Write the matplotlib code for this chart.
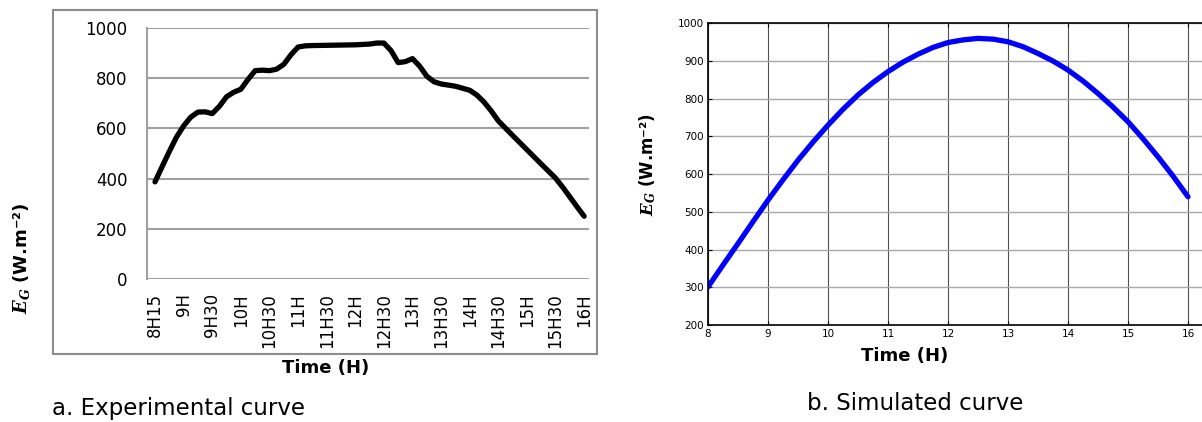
import matplotlib
matplotlib.use('Agg')
import matplotlib.pyplot as plt
from matplotlib.patches import Rectangle

# global irradiance, experimental (Excel style) and simulated (Matlab style)
exp_labels = ['8H15', '9H', '9H30', '10H', '10H30', '11H', '11H30', '12H',
              '12H30', '13H', '13H30', '14H', '14H30', '15H', '15H30', '16H']
# positions in label units (read along the curve between labels)
exp_pos = [0, 0.25, 0.5, 0.75, 1, 1.25, 1.5, 1.75, 2, 2.25, 2.5, 2.75, 3, 3.25, 3.5,
           3.75, 4, 4.25, 4.5, 4.75, 5, 5.25, 5.5, 6, 6.5, 7, 7.5, 7.75, 8, 8.25,
           8.5, 8.75, 9, 9.25, 9.5, 9.75, 10, 10.5, 11, 11.25, 11.5, 11.75, 12,
           12.5, 13, 13.5, 14, 14.25, 14.5, 14.75, 15]
exp_val = [387, 448, 508, 565, 610, 645, 665, 666, 659, 688, 726, 744, 756, 795, 830,
           832, 830, 836, 855, 893, 924, 929, 930, 931, 932, 933, 936, 940, 940, 910,
           862, 866, 878, 848, 808, 786, 777, 768, 752, 733, 705, 670, 630,
           572, 515, 458, 402, 366, 327, 288, 250]

sim_time = [8, 8.25, 8.5, 8.75, 9, 9.25, 9.5, 9.75, 10, 10.25, 10.5, 10.75, 11,
            11.25, 11.5, 11.75, 12, 12.25, 12.5, 12.75, 13, 13.25, 13.5, 13.75,
            14, 14.25, 14.5, 14.75, 15, 15.25, 15.5, 15.75, 16]
sim_val = [301, 359, 416, 474, 531, 585, 637, 685, 730, 772, 810, 843, 872,
           897, 918, 936, 949, 956, 960, 958, 951, 938, 920, 900,
           876, 847, 814, 778, 739, 694, 646, 595, 540]

W, H = 1202, 422
plt.rcParams['font.family'] = ['DejaVu Sans']
plt.rcParams['mathtext.fontset'] = 'custom'
plt.rcParams['mathtext.rm'] = 'DejaVu Sans:bold'
plt.rcParams['mathtext.bf'] = 'DejaVu Sans:bold'
plt.rcParams['mathtext.it'] = 'DejaVu Serif:bold:italic'

fig = plt.figure(figsize=(W / 100, H / 100), dpi=100)


def box(x0, y0, x1, y1):
    # pixel box (top-left origin) -> figure fraction rect
    return [x0 / W, 1 - y1 / H, (x1 - x0) / W, (y1 - y0) / H]


def fx(x):
    return x / W


def fy(y):
    return 1 - y / H


ylab = r'$E_G$ (W.m⁻²)'

# ---- a. experimental ----
fig.patches.append(Rectangle((fx(53), fy(354)), (597 - 53) / W, (354 - 10) / H,
                             transform=fig.transFigure, fill=False,
                             edgecolor='#8c8c8c', lw=1.5))

ax1 = fig.add_axes(box(147, 28, 589, 279))
ax1.plot(exp_pos, exp_val, color='black', lw=3.8, solid_joinstyle='round',
         solid_capstyle='round')
ax1.set_xlim(-0.28, 15.17)
ax1.set_ylim(0, 1000)
ax1.set_yticks(range(0, 1001, 200))
ax1.set_xticks(range(len(exp_labels)))
ax1.set_xticklabels(exp_labels, rotation=90, va='top')
ax1.tick_params(axis='both', length=0, labelsize=12)
ax1.tick_params(axis='y', pad=14)
ax1.tick_params(axis='x', pad=10)
ax1.grid(axis='y', color='#a0a0a0', lw=1.5)
ax1.set_axisbelow(True)
for s in ['top', 'right', 'bottom']:
    ax1.spines[s].set_visible(False)
ax1.spines['left'].set_color('#a0a0a0')
ax1.spines['left'].set_linewidth(1.5)

fig.text(fx(22), fy(258), ylab, rotation=90, ha='center', va='center',
         fontsize=13, fontweight='bold')
fig.text(fx(326), fy(368), 'Time (H)', ha='center', va='center',
         fontsize=13, fontweight='bold')
fig.text(fx(52), fy(409), 'a. Experimental curve', ha='left', va='center',
         fontsize=16.5)

# ---- b. simulated ----
ax2 = fig.add_axes(box(708, 23.3, 1215, 325))
ax2.plot(sim_time, sim_val, color='#0000ff', lw=3.8, solid_joinstyle='round',
         solid_capstyle='round')
ax2.set_xlim(8, 16.45)
ax2.set_ylim(200, 1000)
ax2.set_xticks(range(8, 17))
ax2.set_yticks(range(200, 1001, 100))
ax2.tick_params(axis='both', direction='in', length=3, labelsize=7.5,
                top=True, pad=3)
ax2.xaxis.grid(True, color='#505050', lw=0.8)
ax2.yaxis.grid(True, color='#a8a8a8', lw=1.0)
ax2.set_axisbelow(True)
for s in ax2.spines.values():
    s.set_linewidth(1.2)

fig.text(fx(648), fy(165), ylab, rotation=90, ha='center', va='center',
         fontsize=12, fontweight='bold')
fig.text(fx(905), fy(356), 'Time (H)', ha='center', va='center',
         fontsize=13, fontweight='bold')
fig.text(fx(915), fy(404), 'b. Simulated curve', ha='center', va='center',
         fontsize=16.5)

fig.savefig('out.png', dpi=100)
